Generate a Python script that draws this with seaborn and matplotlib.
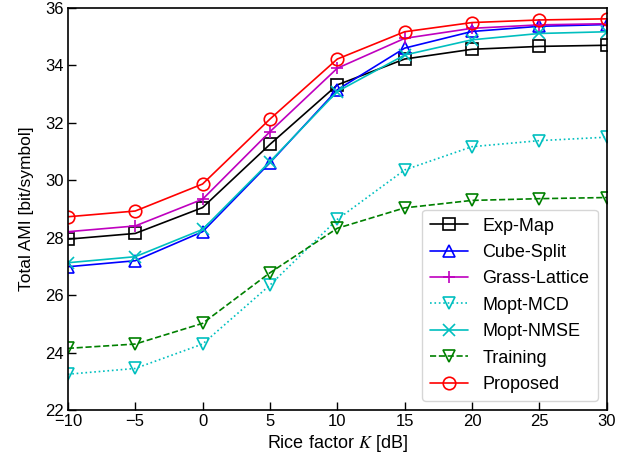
import matplotlib
matplotlib.use("Agg")
import matplotlib.pyplot as plt
import seaborn as sns
import pandas as pd

K = [-10, -5, 0, 5, 10, 15, 20, 25, 30]
exp_map = [27.95, 28.15, 29.05, 31.25, 33.32, 34.22, 34.56, 34.66, 34.70]
cube_split = [26.99, 27.20, 28.21, 30.61, 33.15, 34.60, 35.18, 35.36, 35.42]
grass_lattice = [28.21, 28.41, 29.34, 31.69, 33.90, 34.94, 35.29, 35.41, 35.45]
mopt_mcd = [23.25, 23.45, 24.30, 26.35, 28.64, 30.36, 31.17, 31.38, 31.50]
mopt_nmse = [27.13, 27.34, 28.29, 30.65, 33.09, 34.36, 34.89, 35.11, 35.17]
training = [24.15, 24.30, 25.02, 26.78, 28.33, 29.04, 29.30, 29.36, 29.40]
proposed = [28.73, 28.93, 29.87, 32.13, 34.22, 35.17, 35.49, 35.58, 35.62]

series = [
    ("Exp-Map", exp_map, "k", "s", "-"),
    ("Cube-Split", cube_split, "b", "^", "-"),
    ("Grass-Lattice", grass_lattice, "m", "+", "-"),
    ("Mopt-MCD", mopt_mcd, "c", "v", ":"),
    ("Mopt-NMSE", mopt_nmse, "c", "x", "-"),
    ("Training", training, "g", "v", "--"),
    ("Proposed", proposed, "r", "o", "-"),
]

sns.set_style("ticks")
plt.rcParams['font.family'] = ['Liberation Sans', 'DejaVu Sans']
plt.rcParams['mathtext.fontset'] = 'stix'
for key in ['text.color', 'axes.labelcolor', 'xtick.color', 'ytick.color', 'axes.edgecolor']:
    plt.rcParams[key] = 'black'

fig = plt.figure(figsize=(6.34, 4.65), dpi=100)
ax = fig.add_axes([0.107, 0.118, 0.850, 0.865])

for name, vals, col, mk, ls in series:
    df = pd.DataFrame({"K": K, "AMI": vals})
    sns.lineplot(data=df, x="K", y="AMI", ax=ax, color=col, marker=mk,
                 linestyle=ls, label=name, markersize=9,
                 markerfacecolor="none", markeredgecolor=col, markeredgewidth=1.2,
                 linewidth=1.2)

ax.set_xlim(-10, 30)
ax.set_ylim(22, 36)
ax.set_xticks(range(-10, 31, 5))
ax.set_xticklabels(["\u221210", "\u22125", "0", "5", "10", "15", "20", "25", "30"])
ax.set_yticks(range(22, 37, 2))
ax.tick_params(direction="in", labelsize=12, length=6, width=1, pad=3)
for s in ax.spines.values():
    s.set_linewidth(1.2)
ax.set_xlabel("Rice factor $K$ [dB]", fontsize=13, labelpad=3)
ax.set_ylabel("Total AMI [bit/symbol]", fontsize=12.5, labelpad=8)
ax.legend(loc="lower right", fontsize=13, frameon=True, fancybox=True,
          handlelength=2.1, borderpad=0.45, labelspacing=0.52, borderaxespad=0.5)

fig.savefig("out.png", dpi=100)
